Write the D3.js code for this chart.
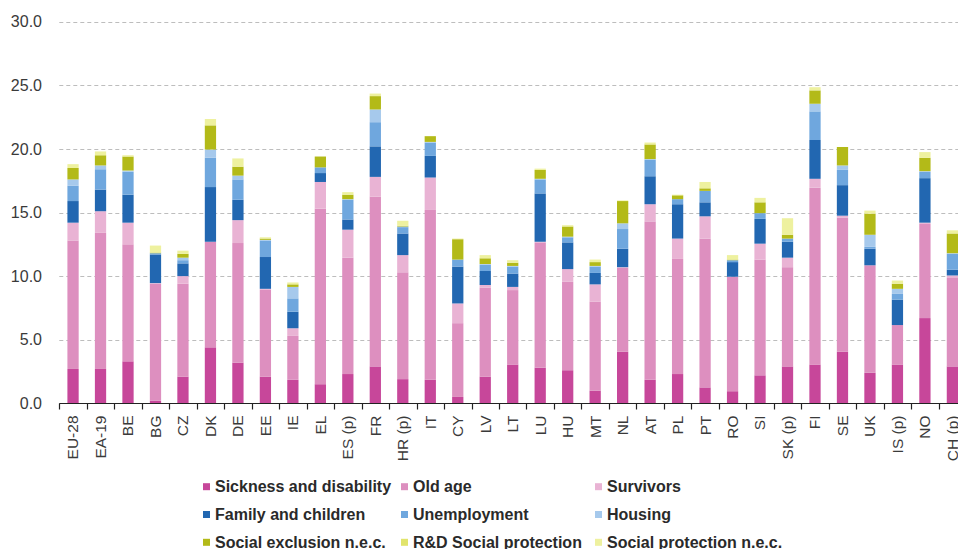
<!DOCTYPE html>
<html>
<head>
<meta charset="utf-8">
<script src="https://cdn.jsdelivr.net/npm/d3@7"></script>
<style>
  html, body { margin: 0; padding: 0; background: #fff; }
  svg { display: block; font-family: "Liberation Sans", Arial, sans-serif; }
</style>
</head>
<body>
<svg id="chart" width="958" height="549"></svg>
<script>
const categories = ["EU-28","EA-19","BE","BG","CZ","DK","DE","EE","IE","EL","ES (p)","FR","HR (p)","IT","CY","LV","LT","LU","HU","MT","NL","AT","PL","PT","RO","SI","SK (p)","FI","SE","UK","IS (p)","NO","CH (p)"];

const sickness        = [2.7,2.7,3.3,0.2,2.1,4.4,3.2,2.1,1.85,1.5,2.3,2.9,1.9,1.85,0.5,2.1,3.05,2.8,2.6,1.0,4.05,1.85,2.3,1.25,0.95,2.2,2.9,3.05,4.05,2.4,3.05,6.7,2.9];
const oldAge          = [10.1,10.7,9.2,9.2,7.3,8.3,9.4,6.85,3.45,13.8,9.15,13.35,8.4,13.35,5.8,7.0,5.85,9.85,6.95,7.0,6.6,12.45,9.05,11.7,9.0,9.1,7.8,13.9,10.55,8.45,3.1,7.4,6.95];
const survivors       = [1.4,1.7,1.7,0.05,0.6,0.0,1.8,0.05,0.6,2.1,2.2,1.55,1.35,2.55,1.55,0.2,0.25,0.05,1.0,1.35,0.05,1.35,1.6,1.75,0.0,1.25,0.75,0.7,0.15,0.0,0.0,0.1,0.2];
const family          = [1.7,1.7,2.2,2.25,1.0,4.3,1.6,2.5,1.3,0.7,0.8,2.4,1.7,1.7,2.9,1.1,1.05,3.8,2.1,0.9,1.45,2.2,2.7,1.1,1.15,1.95,1.25,3.05,2.4,1.3,2.0,3.5,0.45];
const unemployment    = [1.2,1.6,1.8,0.1,0.25,2.3,1.6,1.3,1.05,0.45,1.55,1.9,0.5,1.05,0.55,0.5,0.55,1.1,0.4,0.5,1.55,1.3,0.4,0.9,0.15,0.45,0.25,2.25,1.2,0.15,0.45,0.5,1.25];
const housing         = [0.5,0.3,0.1,0.0,0.2,0.65,0.3,0.05,0.9,0.0,0.05,1.0,0.05,0.05,0.0,0.05,0.05,0.05,0.05,0.05,0.45,0.05,0.0,0.0,0.0,0.0,0.0,0.6,0.35,0.95,0.4,0.05,0.05];
const socialExclusion = [0.9,0.8,1.1,0.05,0.3,1.9,0.7,0.1,0.2,0.85,0.35,1.05,0.05,0.45,1.6,0.45,0.25,0.7,0.8,0.3,1.75,1.15,0.3,0.2,0.05,0.85,0.3,1.05,1.45,1.65,0.4,1.05,1.55];
const rdSocial        = [0,0,0,0,0,0,0,0,0,0,0,0,0,0,0,0,0,0,0,0,0,0,0,0,0,0,0,0,0,0,0,0,0];
const socialNec       = [0.3,0.3,0.1,0.55,0.25,0.5,0.65,0.1,0.15,0.0,0.2,0.2,0.4,0.0,0.05,0.25,0.2,0.1,0.1,0.2,0.05,0.15,0.05,0.5,0.35,0.35,1.3,0.25,0.0,0.25,0.25,0.45,0.25];

const seriesNames  = ["Sickness and disability","Old age","Survivors","Family and children","Unemployment","Housing","Social exclusion n.e.c.","R&D Social protection","Social protection n.e.c."];
const seriesValues = [sickness, oldAge, survivors, family, unemployment, housing, socialExclusion, rdSocial, socialNec];
const seriesColors = ["#c7479a","#dd8fbf","#e9b3d4","#2267b1","#6fa7de","#a6c9ec","#b3ba18","#e1e46c","#eef19f"];
const yTicks = [0,5,10,15,20,25,30];

const svg = d3.select("#chart");
const x0 = 59.3, yBottom = 403.3, yTop = 21.7;
const step = 27.48;

const x = d3.scaleBand().domain(categories)
  .range([x0, x0 + step * categories.length])
  .paddingInner(0.59).paddingOuter(0.295);
const y = d3.scaleLinear().domain([0, 30]).range([yBottom, yTop]);

// gridlines
svg.append("g").selectAll("line").data(yTicks.filter(d => d > 0)).join("line")
  .attr("x1", x0).attr("x2", 958)
  .attr("y1", d => Math.round(y(d)) + 0.5).attr("y2", d => Math.round(y(d)) + 0.5)
  .attr("stroke", "#bdbdbd").attr("stroke-width", 1).attr("stroke-dasharray", "4,3");

// y labels
const yAxis = d3.axisLeft(y).tickValues(yTicks).tickFormat(d3.format(".1f")).tickSize(0).tickPadding(0);
const gy = svg.append("g").attr("transform", "translate(42,0)").call(yAxis);
gy.select(".domain").remove();
gy.selectAll("text").attr("font-size", 16).attr("fill", "#3a3a3a")
  .attr("font-family", "'Liberation Sans', Arial, sans-serif");

// stacked data
const rows = categories.map((c, i) => {
  const r = { cat: c };
  seriesNames.forEach((s, k) => r[s] = seriesValues[k][i]);
  return r;
});
const stack = d3.stack().keys(seriesNames)(rows);

svg.append("g").selectAll("g").data(stack).join("g")
  .attr("fill", (d, i) => seriesColors[i])
  .selectAll("rect").data(d => d).join("rect")
  .attr("x", d => x(d.data.cat))
  .attr("width", x.bandwidth())
  .attr("y", d => y(d[1]))
  .attr("height", d => Math.max(0, y(d[0]) - y(d[1])));

// x axis
const xAxis = d3.axisBottom(x).tickSize(0).tickPadding(0);
const gx = svg.append("g").attr("transform", `translate(0,${Math.round(yBottom) + 0.5})`).call(xAxis);
gx.select(".domain").remove();
gx.append("line").attr("x1", x0).attr("x2", 958).attr("y1", 0).attr("y2", 0)
  .attr("stroke", "#222").attr("stroke-width", 1.2);
const boundaries = d3.range(categories.length + 1).map(i => x0 + step * i);
gx.selectAll("line.tk").data(boundaries).join("line").attr("class", "tk")
  .attr("x1", d => Math.round(d) + 0.5).attr("x2", d => Math.round(d) + 0.5)
  .attr("y1", 0).attr("y2", 6).attr("stroke", "#222").attr("stroke-width", 1.2);
gx.selectAll(".tick text")
  .attr("transform", "translate(0,12) rotate(-90)")
  .attr("text-anchor", "end").attr("dy", "0.35em").attr("x", 0).attr("y", 0)
  .attr("font-size", 15.5).attr("fill", "#3a3a3a")
  .attr("font-family", "'Liberation Sans', Arial, sans-serif");

// legend
const legCols = [203, 401, 595];
const legRows = [486.7, 514.5, 542.3];
const lg = svg.append("g");
seriesNames.forEach((s, i) => {
  const cx = legCols[i % 3], cy = legRows[Math.floor(i / 3)];
  lg.append("rect").attr("x", cx).attr("y", cy - 3.5).attr("width", 7).attr("height", 7).attr("fill", seriesColors[i]);
  lg.append("text").attr("x", cx + 12).attr("y", cy).attr("dy", "0.35em")
    .attr("font-size", 16).attr("font-weight", "bold").attr("fill", "#2a2a2a")
    .text(s);
});
</script>
</body>
</html>
